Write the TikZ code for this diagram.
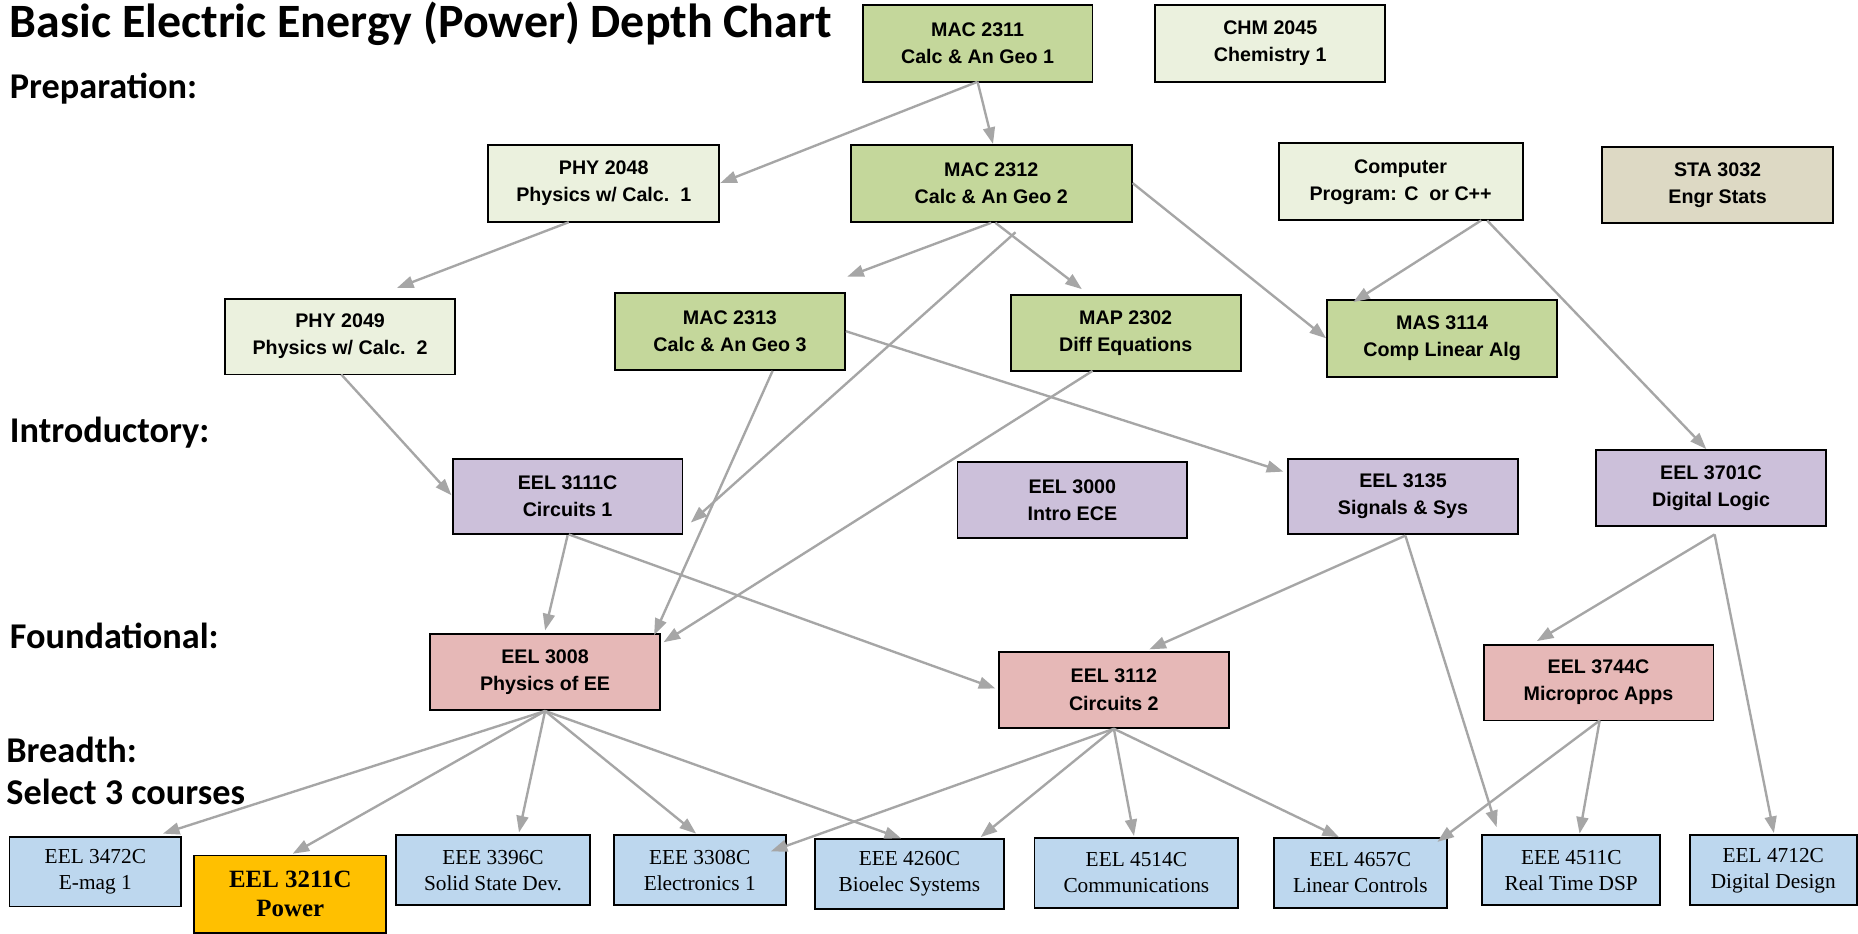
\documentclass[tikz,border=0pt]{standalone}
\usepackage{fontspec}
\usetikzlibrary{arrows.meta,calc}
\newfontfamily\sansf{Liberation Sans}
\newfontfamily\seriff{Liberation Serif}
\newfontfamily\calibf{Carlito}
\definecolor{gA}{HTML}{C4D79B}
\definecolor{gL}{HTML}{EBF1DE}
\definecolor{tanc}{HTML}{DDD9C4}
\definecolor{pur}{HTML}{CCC0DA}
\definecolor{pnk}{HTML}{E6B8B7}
\definecolor{lb}{HTML}{BDD7EE}
\definecolor{goldc}{HTML}{FFC000}
\definecolor{arr}{HTML}{A6A6A6}
\tikzset{
  box/.style={draw=black, line width=0.8pt, inner sep=0pt, align=center,
    font=\sansf\bfseries\fontsize{8.3}{11.5}\selectfont},
  sbox/.style={draw=black, line width=0.8pt, inner sep=0pt, align=center, fill=lb,
    font=\seriff\fontsize{9}{11}\selectfont},
  sz/.style 2 args={minimum width=#1*0.5pt, minimum height=#2*0.5pt},
  lbl/.style={anchor=west, inner sep=0pt, font=\calibf\bfseries\fontsize{15.3}{18}\selectfont},
  conn/.style={draw=arr, line width=1pt, -{Triangle[length=7pt,width=5pt]}}
}
\begin{document}
\begin{tikzpicture}[x=0.5pt,y=-0.5pt]
\useasboundingbox (0,0) rectangle (1568,788);
\fill[white] (0,0) rectangle (1568,788);
% labels
\node[anchor=west, inner sep=0pt, font=\calibf\bfseries\fontsize{20.2}{24}\selectfont] (title) at (8,20) {Basic Electric Energy (Power) Depth Chart};
\node[lbl] (prep) at (8,75) {Preparation:};
\node[lbl] (intro) at (8,365) {Introductory:};
\node[lbl] (found) at (8,537) {Foundational:};
\node[lbl] (bread) at (5,633) {Breadth:};
\node[lbl] (sel) at (5,668) {Select 3 courses};
% preparation
\node[box, fill=gA, sz={194}{65}] (m2311) at (825,36.5) {MAC 2311\\Calc \& An Geo 1};
\node[box, fill=gL, sz={194}{65}] (c2045) at (1072,36.5) {CHM 2045\\Chemistry 1};
\node[box, fill=gL, sz={195}{65}] (p2048) at (509.5,154.5) {PHY 2048\\Physics w/ Calc.\ \ 1};
\node[box, fill=gA, sz={237}{65}] (m2312) at (836.5,154.5) {MAC 2312\\Calc \& An Geo 2};
\node[box, fill=gL, sz={206}{65}] (comp) at (1182,153.5) {Computer\\Program: C\ \ or C++};
\node[box, fill=tanc, sz={195}{64}] (s3032) at (1449.5,156) {STA 3032\\Engr Stats};
\node[box, fill=gL, sz={194}{64}] (p2049) at (287,284) {PHY 2049\\Physics w/ Calc.\ \ 2};
\node[box, fill=gA, sz={194}{65}] (m2313) at (616,279.5) {MAC 2313\\Calc \& An Geo 3};
\node[box, fill=gA, sz={194}{64}] (m2302) at (950,281) {MAP 2302\\Diff Equations};
\node[box, fill=gA, sz={194}{65}] (m3114) at (1217,285.5) {MAS 3114\\Comp Linear Alg};
% introductory
\node[box, fill=pur, sz={194}{64}] (e3111) at (479,419) {EEL 3111C\\Circuits 1};
\node[box, fill=pur, sz={194}{64}] (e3000) at (905,422) {EEL 3000\\Intro ECE};
\node[box, fill=pur, sz={194}{64}] (e3135) at (1184,419) {EEL 3135\\Signals \& Sys};
\node[box, fill=pur, sz={194}{64}] (e3701) at (1444,412) {EEL 3701C\\Digital Logic};
% foundational
\node[box, fill=pnk, sz={194}{64}] (e3008) at (460,567) {EEL 3008\\Physics of EE};
\node[box, fill=pnk, sz={194}{64}] (e3112) at (940,582) {EEL 3112\\Circuits 2};
\node[box, fill=pnk, sz={194}{64}] (e3744) at (1349,576) {EEL 3744C\\Microproc Apps};
% breadth
\node[sbox, sz={145}{59}] (e3472) at (80.5,735.5) {EEL 3472C\\E-mag 1};
\node[sbox, fill=goldc, sz={162}{65}, font=\seriff\bfseries\fontsize{10.5}{12.5}\selectfont] (e3211) at (245,754.5) {EEL 3211C\\Power};
\node[sbox, sz={164}{59}] (e3396) at (416,734.5) {EEE 3396C\\Solid State Dev.};
\node[sbox, sz={145}{59}] (e3308) at (590.5,734.5) {EEE 3308C\\Electronics 1};
\node[sbox, sz={159}{59}] (e4260) at (767.5,737.5) {EEE 4260C\\Bioelec Systems};
\node[sbox, sz={172}{59}] (e4514) at (959,736.5) {EEL 4514C\\Communications};
\node[sbox, sz={146}{59}] (e4657) at (1148,736.5) {EEL 4657C\\Linear Controls};
\node[sbox, sz={150}{59}] (e4511) at (1326,734.5) {EEE 4511C\\Real Time DSP};
\node[sbox, sz={141}{59}] (e4712) at (1496.5,734.5) {EEL 4712C\\Digital Design};
% connectors
\draw[conn] ($(m2311)+(0,32.5)$) -- (p2048.east);
\draw[conn] ($(m2311)+(0,32.5)$) -- ($(m2312)+(1.5,-33)$);
\draw[conn] ($(p2048)+(-29.5,33)$) -- ($(p2049)+(48,-41)$);
\draw[conn] ($(m2312)+(0,33.5)$) -- ($(m2313)+(99,-46)$);
\draw[conn] ($(m2312)+(3.5,33.5)$) -- ($(m2302)+(-37,-37)$);
\draw[conn] ($(m2312)+(20.5,41.5)$) -- ($(e3111)+(104,22)$);
\draw[conn] (m2312.east) -- (m3114.west);
\draw[conn] ($(comp)+(68,32.5)$) -- ($(m3114)+(-75,-30.5)$);
\draw[conn] ($(comp)+(73,32.5)$) -- ($(e3701)+(-4,-33)$);
\draw[conn] ($(p2049)+(1,32)$) -- ($(e3111)+(-98,-1)$);
\draw[conn] ($(m2313)+(36,33.5)$) -- ($(e3008)+(92,-31)$);
\draw[conn] (m2313.east) -- ($(e3135)+(-101,-21)$);
\draw[conn] ($(m2302)+(-28,32)$) -- ($(e3008)+(100,-25)$);
\draw[conn] (e3111.south) -- ($(e3008)+(0,-35)$);
\draw[conn] ($(e3111)+(1,32)$) -- ($(e3112)+(-100,-1)$);
\draw[conn] ($(e3135)+(2,33)$) -- ($(e3112)+(30,-34)$);
\draw[conn] ($(e3135)+(2,33)$) -- ($(e4511)+(-63,-36.5)$);
\draw[conn] ($(e3701)+(3,39)$) -- ($(e3744)+(-52,-35)$);
\draw[conn] ($(e3701)+(3,39)$) -- ($(e4712)+(0.5,-31.5)$);
\draw[conn] ($(e3008)+(0,33)$) -- ($(e3472)+(57,-32)$);
\draw[conn] ($(e3008)+(0,33)$) -- ($(e3211)+(2,-34)$);
\draw[conn] ($(e3008)+(0,33)$) -- ($(e3396)+(22,-32)$);
\draw[conn] ($(e3008)+(0,33)$) -- ($(e3308)+(-3,-31)$);
\draw[conn] ($(e3008)+(0,33)$) -- ($(e4260)+(-7,-30)$);
\draw[conn] ($(e3112)+(0,33)$) -- ($(e3308)+(60,-16)$);
\draw[conn] ($(e3112)+(0,33)$) -- ($(e4260)+(60,-31)$);
\draw[conn] ($(e3112)+(0,33)$) -- ($(e4514)+(-2,-31)$);
\draw[conn] ($(e3112)+(0,33)$) -- ($(e4657)+(-18,-30)$);
\draw[conn] ($(e3744)+(1,32)$) -- ($(e4657)+(65,-26)$);
\draw[conn] ($(e3744)+(1,32)$) -- ($(e4511)+(7,-31)$);
\end{tikzpicture}
\end{document}
